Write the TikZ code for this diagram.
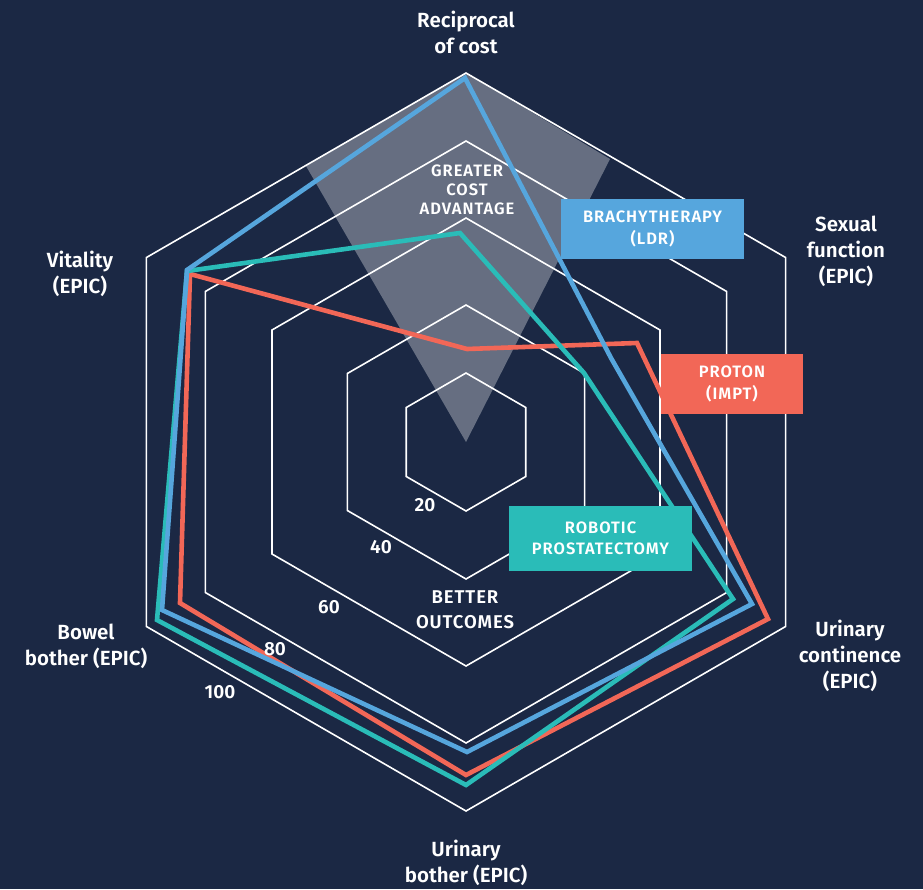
\documentclass[tikz,border=0pt]{standalone}
\usepackage{fontspec}
\setmainfont{Fira Sans}[BoldFont={* SemiBold}]
\usepackage{tikz}
\usetikzlibrary{positioning}

\definecolor{navy}{HTML}{1B2844}
\definecolor{brachy}{HTML}{56A6DD}
\definecolor{proton}{HTML}{F26757}
\definecolor{robotic}{HTML}{2ABCB8}

\begin{document}
\begin{tikzpicture}[x=1pt, y=-1pt,
    ring/.style={draw=white, line width=1.6pt, line join=miter},
    series/.style={line width=4.6pt, line join=miter},
    axislabel/.style={text=white, font=\fontsize{20.5}{26}\selectfont\bfseries, align=center},
    ticklabel/.style={text=white, font=\fontsize{19}{22}\selectfont\bfseries},
    capsnote/.style={text=white, font=\fontsize{16.5}{19}\selectfont\bfseries\addfontfeatures{LetterSpace=6}, align=center},
    legendbox/.style={text=white, font=\fontsize{16.5}{21.5}\selectfont\bfseries\addfontfeatures{LetterSpace=6}, align=center, inner sep=0pt, minimum height=60pt},
]
    % Background
    \fill[navy] (0,0) rectangle (923,889);

    % Cost advantage wedge
    \fill[white, opacity=0.33] (466,442) -- (306,166) -- (466,73) -- (610,159) -- cycle;

    % Rings
    \begin{scope}[shift={(466,442)}]
        \foreach \r in {69,137,224,301,369}
            \draw[ring] (-90:\r) -- (-30:\r) -- (30:\r) -- (90:\r) -- (150:\r) -- (210:\r) -- cycle;
    \end{scope}

    % Series
    \draw[series, proton] (467,349) -- (637,343) -- (768,619) -- (466,775) -- (180,603) -- (190,274) -- cycle;
    \draw[series, robotic] (460,233) -- (584,373) -- (733,599) -- (466,785) -- (157,620) -- (187,271) -- cycle;
    \draw[series, brachy] (465,78) -- (611,358) -- (752,604) -- (467,752) -- (162,610) -- (187,270) -- cycle;

    % Axis labels
    \node[axislabel] (cost) at (466,32) {Reciprocal\\of cost};
    \node[axislabel] (sexual) at (846,251) {Sexual\\function\\(EPIC)};
    \node[axislabel] (continence) at (850,656) {Urinary\\continence\\(EPIC)};
    \node[axislabel] (bother) at (466,863) {Urinary\\bother (EPIC)};
    \node[axislabel] (bowel) at (86,646) {Bowel\\bother (EPIC)};
    \node[axislabel] (vitality) at (80,274) {Vitality\\(EPIC)};

    % Scale
    \node[ticklabel] (t20) at (425,505) {20};
    \node[ticklabel] (t40) at (381,547) {40};
    \node[ticklabel] (t60) at (329,607) {60};
    \node[ticklabel] (t80) at (275,649) {80};
    \node[ticklabel] (t100) at (220,692) {100};

    % Notes
    \node[capsnote] (greater) at (467,190) {GREATER\\COST\\ADVANTAGE};
    \node[capsnote, font=\fontsize{18.5}{25}\selectfont\bfseries\addfontfeatures{LetterSpace=5}] (better) at (465,610) {BETTER\\OUTCOMES};

    % Legend
    \node[legendbox, fill=brachy, minimum width=183pt] (lbrachy) at (652.5,229) {BRACHYTHERAPY\\(LDR)};
    \node[legendbox, fill=proton, minimum width=142pt] (lproton) at (732,384) {PROTON\\(IMPT)};
    \node[legendbox, fill=robotic, minimum width=183pt, minimum height=65pt] (lrobotic) at (600.5,538.5) {ROBOTIC\\PROSTATECTOMY};
\end{tikzpicture}
\end{document}
